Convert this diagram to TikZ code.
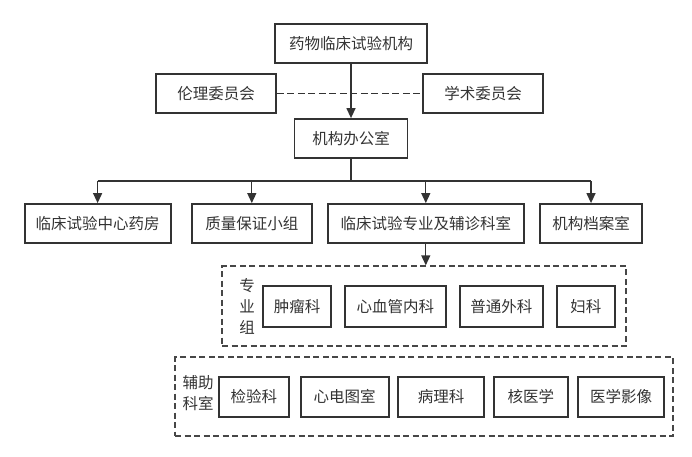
\documentclass[tikz,border=0pt]{standalone}
\usepackage{fontspec}
\setmainfont{Noto Sans CJK SC}
\usetikzlibrary{arrows.meta}

\definecolor{ink}{HTML}{333333}
\tikzset{
	box/.style={draw=ink, line width=1.8pt, text=ink, inner sep=0pt, minimum height=39pt, font=\fontsize{15.5}{21}\selectfont},
	groupbox/.style={draw=ink!90, line width=1.3pt, dash pattern=on 6pt off 3.5pt, inner sep=0pt},
	label/.style={text=ink, inner sep=0pt, align=center, font=\fontsize{15.5}{21}\selectfont},
	line/.style={draw=ink, line width=1.3pt},
	arr/.style={line, -{Triangle[length=10pt,width=9pt]}},
	dashline/.style={line, dash pattern=on 7pt off 3.5pt}
}

\begin{document}
\begin{tikzpicture}[x=1pt, y=-1pt]
			%%%%% START %%%%%
			\useasboundingbox (0,0) rectangle (692,456);
			
			\node[box, minimum width=152pt] (jigou) at (351, 43.5) {药物临床试验机构};
			\node[box, minimum width=120pt] (lunli) at (216, 93.5) {伦理委员会};
			\node[box, minimum width=120pt] (xueshu) at (483, 93.5) {学术委员会};
			\node[box, minimum width=113pt] (bangong) at (351, 138.5) {机构办公室};
			
			\draw[dashline] (lunli) -- (xueshu);
			\draw[arr] (jigou) -- (bangong);
			
			\node[box, minimum width=146pt] (yaofang) at (97.6, 223.5) {临床试验中心药房};
			\node[box, minimum width=120pt] (zhiliang) at (251.8, 223.5) {质量保证小组};
			\node[box, minimum width=196pt] (zhuanye) at (425.8, 223.5) {临床试验专业及辅诊科室};
			\node[box, minimum width=102pt] (dangan) at (591, 223.5) {机构档案室};
			
			\coordinate (bus) at (351, 181);
			\draw[line] (bangong) -- (bus);
			\draw[line] (yaofang.north |- bus) -- (dangan.north |- bus);
			\foreach \n in {yaofang,zhiliang,zhuanye,dangan}
				\draw[arr] (\n.north |- bus) -- (\n.north);
			
			% zhuanye group
			\node[groupbox, minimum width=404pt, minimum height=80pt] (zhuanyezu) at (424, 306) {};
			\draw[arr] (zhuanye.south) -- (zhuanye.south |- zhuanyezu.north);
			\node[label] (zulabel) at (247, 306) {专\\业\\组};
			\node[box, minimum width=68pt, minimum height=41pt] (zhongliu) at (297, 306.5) {肿瘤科};
			\node[box, minimum width=101pt, minimum height=41pt] (xinxueguan) at (395.3, 306.5) {心血管内科};
			\node[box, minimum width=83pt, minimum height=41pt] (putong) at (501.3, 306.5) {普通外科};
			\node[box, minimum width=58pt, minimum height=41pt] (fuke) at (585.8, 306.5) {妇科};
			
			% fuzhen group
			\node[groupbox, minimum width=498pt, minimum height=79pt] (fuzhenzu) at (424, 396.5) {};
			\node[label] (fzlabel) at (198, 393) {辅助\\科室};
			\node[box, minimum width=70pt, minimum height=40pt] (jianyan) at (253.9, 397) {检验科};
			\node[box, minimum width=88pt, minimum height=40pt] (xindian) at (344.6, 397) {心电图室};
			\node[box, minimum width=86pt, minimum height=40pt] (bingli) at (441, 397) {病理科};
			\node[box, minimum width=74pt, minimum height=40pt] (heyixue) at (530.8, 397) {核医学};
			\node[box, minimum width=86pt, minimum height=40pt] (yingxiang) at (621.2, 397) {医学影像};
			
			%%%%% END %%%%%
\end{tikzpicture}
\end{document}
